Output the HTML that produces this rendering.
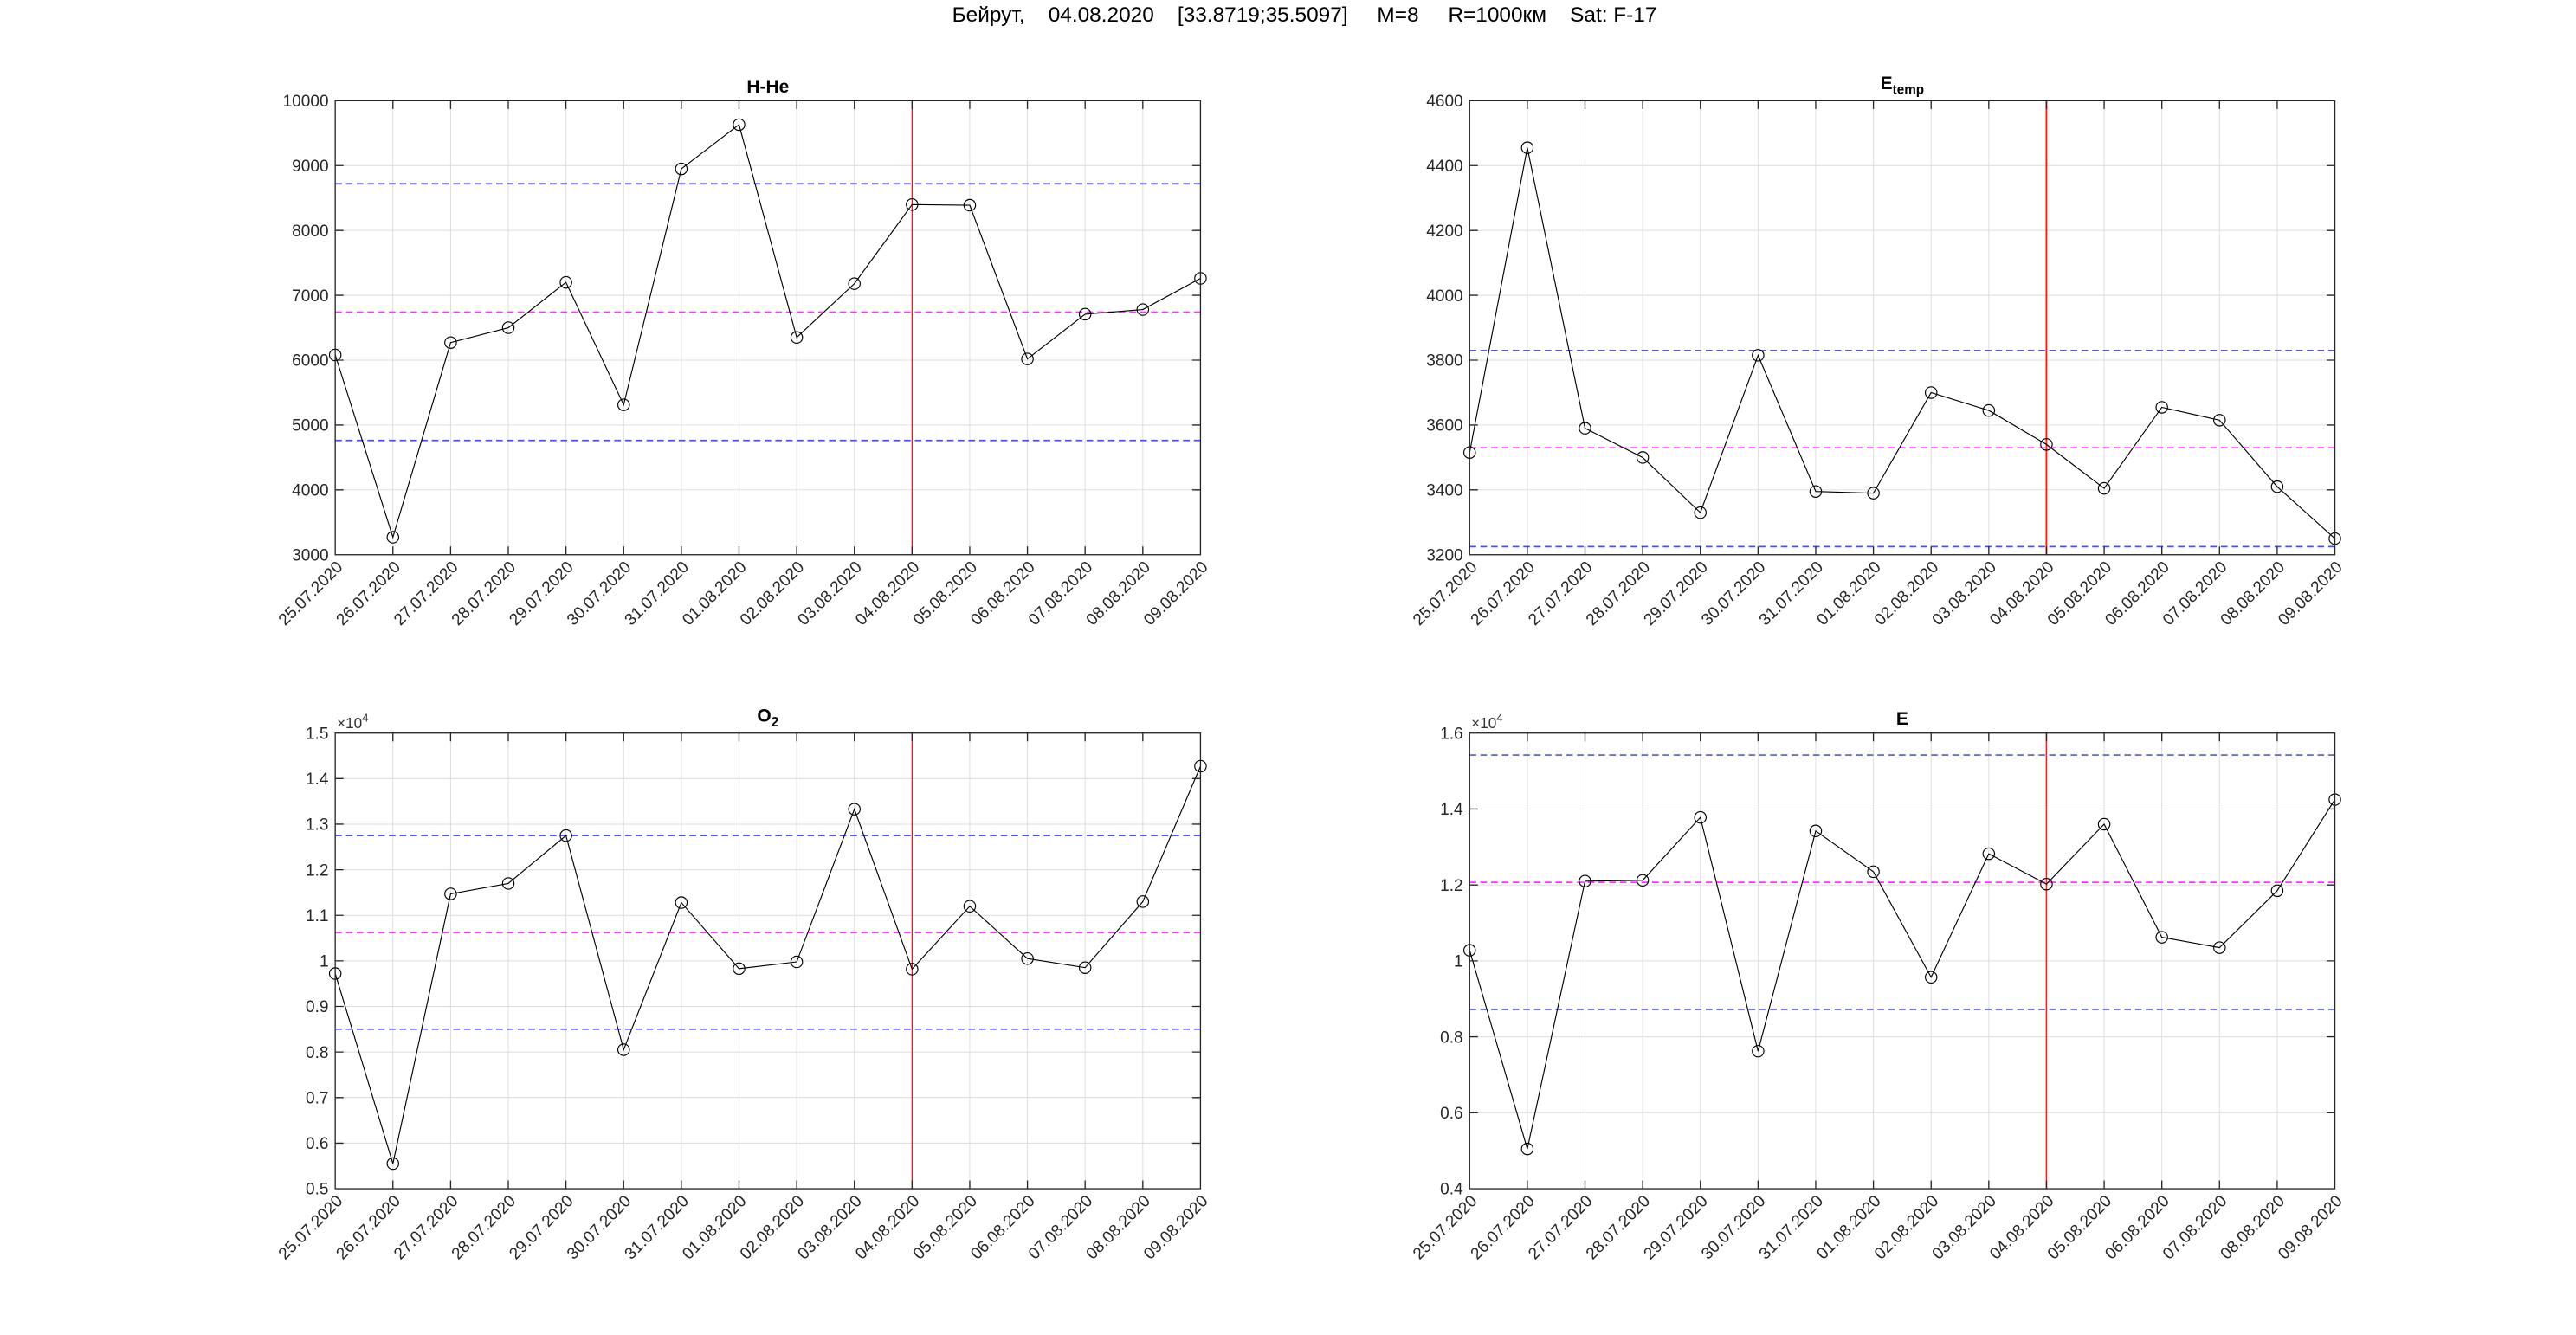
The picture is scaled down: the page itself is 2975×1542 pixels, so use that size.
<!DOCTYPE html>
<html><head><meta charset="utf-8"><style>
html,body{margin:0;padding:0;background:#fff;}
svg{display:block;font-family:"Liberation Sans",Arial,sans-serif;}
.ax{fill:none;stroke:#262626;stroke-width:0.7}
.gr{stroke:#dcdcdc;stroke-width:0.5}
.tk{stroke:#262626;stroke-width:0.7}
.yl{font-size:10px;fill:#262626;text-anchor:end}
.xl{font-size:10px;fill:#262626;text-anchor:end}
.ln{fill:none;stroke:#000;stroke-width:0.6}
.mk{fill:none;stroke:#000;stroke-width:0.6}
.hb{stroke:#4d4dff;stroke-width:0.9;stroke-dasharray:4,2.5}
.hm{stroke:#ff33ff;stroke-width:0.9;stroke-dasharray:4,2.5}
.tt{font-size:11px;font-weight:bold;text-anchor:middle;fill:#000}
.ex{font-size:9px;fill:#333}
</style></head><body>
<svg width="2975" height="1542" viewBox="0 0 1560 808.6" xmlns="http://www.w3.org/2000/svg">
<text x="790" y="13" font-size="12.8" text-anchor="middle" fill="#000" xml:space="preserve">Бейрут,    04.08.2020    [33.8719;35.5097]     M=8     R=1000км    Sat: F-17</text>

<!-- ===== H-He ===== -->
<g transform="translate(203,61)">
<g class="gr">
<line x1="34.93" y1="0" x2="34.93" y2="275"/><line x1="69.87" y1="0" x2="69.87" y2="275"/><line x1="104.8" y1="0" x2="104.8" y2="275"/><line x1="139.73" y1="0" x2="139.73" y2="275"/><line x1="174.67" y1="0" x2="174.67" y2="275"/><line x1="209.6" y1="0" x2="209.6" y2="275"/><line x1="244.53" y1="0" x2="244.53" y2="275"/><line x1="279.47" y1="0" x2="279.47" y2="275"/><line x1="314.4" y1="0" x2="314.4" y2="275"/><line x1="349.33" y1="0" x2="349.33" y2="275"/><line x1="384.27" y1="0" x2="384.27" y2="275"/><line x1="419.2" y1="0" x2="419.2" y2="275"/><line x1="454.13" y1="0" x2="454.13" y2="275"/><line x1="489.07" y1="0" x2="489.07" y2="275"/>
<line x1="0" y1="39.29" x2="524" y2="39.29"/><line x1="0" y1="78.57" x2="524" y2="78.57"/><line x1="0" y1="117.86" x2="524" y2="117.86"/><line x1="0" y1="157.14" x2="524" y2="157.14"/><line x1="0" y1="196.43" x2="524" y2="196.43"/><line x1="0" y1="235.71" x2="524" y2="235.71"/>
</g>
<line class="hb" x1="0" y1="50.3" x2="524" y2="50.3"/>
<line class="hm" x1="0" y1="128.0" x2="524" y2="128.0"/>
<line class="hb" x1="0" y1="205.8" x2="524" y2="205.8"/>
<line x1="349.33" y1="0" x2="349.33" y2="275" stroke="#d01010" stroke-width="0.6"/>
<polyline class="ln" points="0,154.0 34.93,264.4 69.87,146.5 104.8,137.5 139.73,110.0 174.67,184.2 209.6,41.3 244.53,14.5 279.47,143.4 314.4,110.8 349.33,62.9 384.27,63.3 419.2,156.4 454.13,129.3 489.07,126.5 524,107.6"/>
<g class="mk"><circle cx="0" cy="154.0" r="3.5"/><circle cx="34.93" cy="264.4" r="3.5"/><circle cx="69.87" cy="146.5" r="3.5"/><circle cx="104.8" cy="137.5" r="3.5"/><circle cx="139.73" cy="110.0" r="3.5"/><circle cx="174.67" cy="184.2" r="3.5"/><circle cx="209.6" cy="41.3" r="3.5"/><circle cx="244.53" cy="14.5" r="3.5"/><circle cx="279.47" cy="143.4" r="3.5"/><circle cx="314.4" cy="110.8" r="3.5"/><circle cx="349.33" cy="62.9" r="3.5"/><circle cx="384.27" cy="63.3" r="3.5"/><circle cx="419.2" cy="156.4" r="3.5"/><circle cx="454.13" cy="129.3" r="3.5"/><circle cx="489.07" cy="126.5" r="3.5"/><circle cx="524" cy="107.6" r="3.5"/></g>
<rect class="ax" x="0" y="0" width="524" height="275"/>
<g class="tk">
<path d="M34.93,0v5M69.87,0v5M104.8,0v5M139.73,0v5M174.67,0v5M209.6,0v5M244.53,0v5M279.47,0v5M314.4,0v5M349.33,0v5M384.27,0v5M419.2,0v5M454.13,0v5M489.07,0v5M34.93,275v-5M69.87,275v-5M104.8,275v-5M139.73,275v-5M174.67,275v-5M209.6,275v-5M244.53,275v-5M279.47,275v-5M314.4,275v-5M349.33,275v-5M384.27,275v-5M419.2,275v-5M454.13,275v-5M489.07,275v-5"/>
<path d="M0,39.29h5M0,78.57h5M0,117.86h5M0,157.14h5M0,196.43h5M0,235.71h5M524,39.29h-5M524,78.57h-5M524,117.86h-5M524,157.14h-5M524,196.43h-5M524,235.71h-5"/>
</g>
<g class="yl"><text x="-4" y="3.5">10000</text><text x="-4" y="42.8">9000</text><text x="-4" y="82.1">8000</text><text x="-4" y="121.4">7000</text><text x="-4" y="160.6">6000</text><text x="-4" y="199.9">5000</text><text x="-4" y="239.2">4000</text><text x="-4" y="278.5">3000</text></g>
<text class="tt" x="262" y="-5">H-He</text>
<g class="xl">
<text transform="translate(5,283) rotate(-45)">25.07.2020</text><text transform="translate(39.93,283) rotate(-45)">26.07.2020</text><text transform="translate(74.87,283) rotate(-45)">27.07.2020</text><text transform="translate(109.8,283) rotate(-45)">28.07.2020</text><text transform="translate(144.73,283) rotate(-45)">29.07.2020</text><text transform="translate(179.67,283) rotate(-45)">30.07.2020</text><text transform="translate(214.6,283) rotate(-45)">31.07.2020</text><text transform="translate(249.53,283) rotate(-45)">01.08.2020</text><text transform="translate(284.47,283) rotate(-45)">02.08.2020</text><text transform="translate(319.4,283) rotate(-45)">03.08.2020</text><text transform="translate(354.33,283) rotate(-45)">04.08.2020</text><text transform="translate(389.27,283) rotate(-45)">05.08.2020</text><text transform="translate(424.2,283) rotate(-45)">06.08.2020</text><text transform="translate(459.13,283) rotate(-45)">07.08.2020</text><text transform="translate(494.07,283) rotate(-45)">08.08.2020</text><text transform="translate(529,283) rotate(-45)">09.08.2020</text>
</g>
</g>

<!-- ===== E_temp ===== -->
<g transform="translate(890,61)">
<g class="gr">
<line x1="34.93" y1="0" x2="34.93" y2="275"/><line x1="69.87" y1="0" x2="69.87" y2="275"/><line x1="104.8" y1="0" x2="104.8" y2="275"/><line x1="139.73" y1="0" x2="139.73" y2="275"/><line x1="174.67" y1="0" x2="174.67" y2="275"/><line x1="209.6" y1="0" x2="209.6" y2="275"/><line x1="244.53" y1="0" x2="244.53" y2="275"/><line x1="279.47" y1="0" x2="279.47" y2="275"/><line x1="314.4" y1="0" x2="314.4" y2="275"/><line x1="349.33" y1="0" x2="349.33" y2="275"/><line x1="384.27" y1="0" x2="384.27" y2="275"/><line x1="419.2" y1="0" x2="419.2" y2="275"/><line x1="454.13" y1="0" x2="454.13" y2="275"/><line x1="489.07" y1="0" x2="489.07" y2="275"/>
<line x1="0" y1="39.29" x2="524" y2="39.29"/><line x1="0" y1="78.57" x2="524" y2="78.57"/><line x1="0" y1="117.86" x2="524" y2="117.86"/><line x1="0" y1="157.14" x2="524" y2="157.14"/><line x1="0" y1="196.43" x2="524" y2="196.43"/><line x1="0" y1="235.71" x2="524" y2="235.71"/>
</g>
<line class="hb" x1="0" y1="151.3" x2="524" y2="151.3" style="stroke:#5a5ac8"/>
<line class="hm" x1="0" y1="210.2" x2="524" y2="210.2"/>
<line class="hb" x1="0" y1="270.1" x2="524" y2="270.1"/>
<line x1="349.33" y1="0" x2="349.33" y2="275" stroke="#ff1a1a" stroke-width="1"/>
<polyline class="ln" points="0,213.1 34.93,28.5 69.87,198.4 104.8,216.1 139.73,249.5 174.67,154.2 209.6,236.7 244.53,237.7 279.47,176.8 314.4,187.6 349.33,208.2 384.27,234.8 419.2,185.7 454.13,193.5 489.07,233.8 524,265.2"/>
<g class="mk"><circle cx="0" cy="213.1" r="3.5"/><circle cx="34.93" cy="28.5" r="3.5"/><circle cx="69.87" cy="198.4" r="3.5"/><circle cx="104.8" cy="216.1" r="3.5"/><circle cx="139.73" cy="249.5" r="3.5"/><circle cx="174.67" cy="154.2" r="3.5"/><circle cx="209.6" cy="236.7" r="3.5"/><circle cx="244.53" cy="237.7" r="3.5"/><circle cx="279.47" cy="176.8" r="3.5"/><circle cx="314.4" cy="187.6" r="3.5"/><circle cx="349.33" cy="208.2" r="3.5"/><circle cx="384.27" cy="234.8" r="3.5"/><circle cx="419.2" cy="185.7" r="3.5"/><circle cx="454.13" cy="193.5" r="3.5"/><circle cx="489.07" cy="233.8" r="3.5"/><circle cx="524" cy="265.2" r="3.5"/></g>
<rect class="ax" x="0" y="0" width="524" height="275"/>
<g class="tk">
<path d="M34.93,0v5M69.87,0v5M104.8,0v5M139.73,0v5M174.67,0v5M209.6,0v5M244.53,0v5M279.47,0v5M314.4,0v5M349.33,0v5M384.27,0v5M419.2,0v5M454.13,0v5M489.07,0v5M34.93,275v-5M69.87,275v-5M104.8,275v-5M139.73,275v-5M174.67,275v-5M209.6,275v-5M244.53,275v-5M279.47,275v-5M314.4,275v-5M349.33,275v-5M384.27,275v-5M419.2,275v-5M454.13,275v-5M489.07,275v-5"/>
<path d="M0,39.29h5M0,78.57h5M0,117.86h5M0,157.14h5M0,196.43h5M0,235.71h5M524,39.29h-5M524,78.57h-5M524,117.86h-5M524,157.14h-5M524,196.43h-5M524,235.71h-5"/>
</g>
<g class="yl"><text x="-4" y="3.5">4600</text><text x="-4" y="42.8">4400</text><text x="-4" y="82.1">4200</text><text x="-4" y="121.4">4000</text><text x="-4" y="160.6">3800</text><text x="-4" y="199.9">3600</text><text x="-4" y="239.2">3400</text><text x="-4" y="278.5">3200</text></g>
<text class="tt" x="262" y="-7">E<tspan font-size="8" dy="3">temp</tspan></text>
<g class="xl">
<text transform="translate(5,283) rotate(-45)">25.07.2020</text><text transform="translate(39.93,283) rotate(-45)">26.07.2020</text><text transform="translate(74.87,283) rotate(-45)">27.07.2020</text><text transform="translate(109.8,283) rotate(-45)">28.07.2020</text><text transform="translate(144.73,283) rotate(-45)">29.07.2020</text><text transform="translate(179.67,283) rotate(-45)">30.07.2020</text><text transform="translate(214.6,283) rotate(-45)">31.07.2020</text><text transform="translate(249.53,283) rotate(-45)">01.08.2020</text><text transform="translate(284.47,283) rotate(-45)">02.08.2020</text><text transform="translate(319.4,283) rotate(-45)">03.08.2020</text><text transform="translate(354.33,283) rotate(-45)">04.08.2020</text><text transform="translate(389.27,283) rotate(-45)">05.08.2020</text><text transform="translate(424.2,283) rotate(-45)">06.08.2020</text><text transform="translate(459.13,283) rotate(-45)">07.08.2020</text><text transform="translate(494.07,283) rotate(-45)">08.08.2020</text><text transform="translate(529,283) rotate(-45)">09.08.2020</text>
</g>
</g>

<!-- ===== O2 ===== -->
<g transform="translate(203,444)">
<g class="gr">
<line x1="34.93" y1="0" x2="34.93" y2="276"/><line x1="69.87" y1="0" x2="69.87" y2="276"/><line x1="104.8" y1="0" x2="104.8" y2="276"/><line x1="139.73" y1="0" x2="139.73" y2="276"/><line x1="174.67" y1="0" x2="174.67" y2="276"/><line x1="209.6" y1="0" x2="209.6" y2="276"/><line x1="244.53" y1="0" x2="244.53" y2="276"/><line x1="279.47" y1="0" x2="279.47" y2="276"/><line x1="314.4" y1="0" x2="314.4" y2="276"/><line x1="349.33" y1="0" x2="349.33" y2="276"/><line x1="384.27" y1="0" x2="384.27" y2="276"/><line x1="419.2" y1="0" x2="419.2" y2="276"/><line x1="454.13" y1="0" x2="454.13" y2="276"/><line x1="489.07" y1="0" x2="489.07" y2="276"/>
<line x1="0" y1="27.6" x2="524" y2="27.6"/><line x1="0" y1="55.2" x2="524" y2="55.2"/><line x1="0" y1="82.8" x2="524" y2="82.8"/><line x1="0" y1="110.4" x2="524" y2="110.4"/><line x1="0" y1="138" x2="524" y2="138"/><line x1="0" y1="165.6" x2="524" y2="165.6"/><line x1="0" y1="193.2" x2="524" y2="193.2"/><line x1="0" y1="220.8" x2="524" y2="220.8"/><line x1="0" y1="248.4" x2="524" y2="248.4"/>
</g>
<line class="hb" x1="0" y1="62.1" x2="524" y2="62.1"/>
<line class="hm" x1="0" y1="120.9" x2="524" y2="120.9"/>
<line class="hb" x1="0" y1="179.4" x2="524" y2="179.4"/>
<line x1="349.33" y1="0" x2="349.33" y2="276" stroke="#d01010" stroke-width="0.6"/>
<polyline class="ln" points="0,145.7 34.93,260.8 69.87,97.4 104.8,91.1 139.73,62.1 174.67,191.8 209.6,102.7 244.53,142.7 279.47,138.6 314.4,46.1 349.33,143.0 384.27,104.9 419.2,136.6 454.13,142.1 489.07,102.1 524,20.1"/>
<g class="mk"><circle cx="0" cy="145.7" r="3.5"/><circle cx="34.93" cy="260.8" r="3.5"/><circle cx="69.87" cy="97.4" r="3.5"/><circle cx="104.8" cy="91.1" r="3.5"/><circle cx="139.73" cy="62.1" r="3.5"/><circle cx="174.67" cy="191.8" r="3.5"/><circle cx="209.6" cy="102.7" r="3.5"/><circle cx="244.53" cy="142.7" r="3.5"/><circle cx="279.47" cy="138.6" r="3.5"/><circle cx="314.4" cy="46.1" r="3.5"/><circle cx="349.33" cy="143.0" r="3.5"/><circle cx="384.27" cy="104.9" r="3.5"/><circle cx="419.2" cy="136.6" r="3.5"/><circle cx="454.13" cy="142.1" r="3.5"/><circle cx="489.07" cy="102.1" r="3.5"/><circle cx="524" cy="20.1" r="3.5"/></g>
<rect class="ax" x="0" y="0" width="524" height="276"/>
<g class="tk">
<path d="M34.93,0v5M69.87,0v5M104.8,0v5M139.73,0v5M174.67,0v5M209.6,0v5M244.53,0v5M279.47,0v5M314.4,0v5M349.33,0v5M384.27,0v5M419.2,0v5M454.13,0v5M489.07,0v5M34.93,276v-5M69.87,276v-5M104.8,276v-5M139.73,276v-5M174.67,276v-5M209.6,276v-5M244.53,276v-5M279.47,276v-5M314.4,276v-5M349.33,276v-5M384.27,276v-5M419.2,276v-5M454.13,276v-5M489.07,276v-5"/>
<path d="M0,27.6h5M0,55.2h5M0,82.8h5M0,110.4h5M0,138h5M0,165.6h5M0,193.2h5M0,220.8h5M0,248.4h5M524,27.6h-5M524,55.2h-5M524,82.8h-5M524,110.4h-5M524,138h-5M524,165.6h-5M524,193.2h-5M524,220.8h-5M524,248.4h-5"/>
</g>
<g class="yl"><text x="-4" y="3.5">1.5</text><text x="-4" y="31.1">1.4</text><text x="-4" y="58.7">1.3</text><text x="-4" y="86.3">1.2</text><text x="-4" y="113.9">1.1</text><text x="-4" y="141.5">1</text><text x="-4" y="169.1">0.9</text><text x="-4" y="196.7">0.8</text><text x="-4" y="224.3">0.7</text><text x="-4" y="251.9">0.6</text><text x="-4" y="279.5">0.5</text></g>
<text class="ex" x="1" y="-3">×10<tspan font-size="7" dy="-4">4</tspan></text>
<text class="tt" x="262" y="-7">O<tspan font-size="8" dy="3">2</tspan></text>
<g class="xl">
<text transform="translate(5,284) rotate(-45)">25.07.2020</text><text transform="translate(39.93,284) rotate(-45)">26.07.2020</text><text transform="translate(74.87,284) rotate(-45)">27.07.2020</text><text transform="translate(109.8,284) rotate(-45)">28.07.2020</text><text transform="translate(144.73,284) rotate(-45)">29.07.2020</text><text transform="translate(179.67,284) rotate(-45)">30.07.2020</text><text transform="translate(214.6,284) rotate(-45)">31.07.2020</text><text transform="translate(249.53,284) rotate(-45)">01.08.2020</text><text transform="translate(284.47,284) rotate(-45)">02.08.2020</text><text transform="translate(319.4,284) rotate(-45)">03.08.2020</text><text transform="translate(354.33,284) rotate(-45)">04.08.2020</text><text transform="translate(389.27,284) rotate(-45)">05.08.2020</text><text transform="translate(424.2,284) rotate(-45)">06.08.2020</text><text transform="translate(459.13,284) rotate(-45)">07.08.2020</text><text transform="translate(494.07,284) rotate(-45)">08.08.2020</text><text transform="translate(529,284) rotate(-45)">09.08.2020</text>
</g>
</g>

<!-- ===== E ===== -->
<g transform="translate(890,444)">
<g class="gr">
<line x1="34.93" y1="0" x2="34.93" y2="276"/><line x1="69.87" y1="0" x2="69.87" y2="276"/><line x1="104.8" y1="0" x2="104.8" y2="276"/><line x1="139.73" y1="0" x2="139.73" y2="276"/><line x1="174.67" y1="0" x2="174.67" y2="276"/><line x1="209.6" y1="0" x2="209.6" y2="276"/><line x1="244.53" y1="0" x2="244.53" y2="276"/><line x1="279.47" y1="0" x2="279.47" y2="276"/><line x1="314.4" y1="0" x2="314.4" y2="276"/><line x1="349.33" y1="0" x2="349.33" y2="276"/><line x1="384.27" y1="0" x2="384.27" y2="276"/><line x1="419.2" y1="0" x2="419.2" y2="276"/><line x1="454.13" y1="0" x2="454.13" y2="276"/><line x1="489.07" y1="0" x2="489.07" y2="276"/>
<line x1="0" y1="46" x2="524" y2="46"/><line x1="0" y1="92" x2="524" y2="92"/><line x1="0" y1="138" x2="524" y2="138"/><line x1="0" y1="184" x2="524" y2="184"/><line x1="0" y1="230" x2="524" y2="230"/>
</g>
<line class="hb" x1="0" y1="13.3" x2="524" y2="13.3" style="stroke:#5a5ac8"/>
<line class="hm" x1="0" y1="90.4" x2="524" y2="90.4"/>
<line class="hb" x1="0" y1="167.4" x2="524" y2="167.4"/>
<line x1="349.33" y1="0" x2="349.33" y2="276" stroke="#ff1a1a" stroke-width="0.8"/>
<polyline class="ln" points="0,131.6 34.93,251.9 69.87,89.7 104.8,89.2 139.73,51.1 174.67,192.7 209.6,59.3 244.53,84.0 279.47,147.9 314.4,73.1 349.33,91.5 384.27,55.2 419.2,123.7 454.13,130.0 489.07,95.5 524,40.3"/>
<g class="mk"><circle cx="0" cy="131.6" r="3.5"/><circle cx="34.93" cy="251.9" r="3.5"/><circle cx="69.87" cy="89.7" r="3.5"/><circle cx="104.8" cy="89.2" r="3.5"/><circle cx="139.73" cy="51.1" r="3.5"/><circle cx="174.67" cy="192.7" r="3.5"/><circle cx="209.6" cy="59.3" r="3.5"/><circle cx="244.53" cy="84.0" r="3.5"/><circle cx="279.47" cy="147.9" r="3.5"/><circle cx="314.4" cy="73.1" r="3.5"/><circle cx="349.33" cy="91.5" r="3.5"/><circle cx="384.27" cy="55.2" r="3.5"/><circle cx="419.2" cy="123.7" r="3.5"/><circle cx="454.13" cy="130.0" r="3.5"/><circle cx="489.07" cy="95.5" r="3.5"/><circle cx="524" cy="40.3" r="3.5"/></g>
<rect class="ax" x="0" y="0" width="524" height="276"/>
<g class="tk">
<path d="M34.93,0v5M69.87,0v5M104.8,0v5M139.73,0v5M174.67,0v5M209.6,0v5M244.53,0v5M279.47,0v5M314.4,0v5M349.33,0v5M384.27,0v5M419.2,0v5M454.13,0v5M489.07,0v5M34.93,276v-5M69.87,276v-5M104.8,276v-5M139.73,276v-5M174.67,276v-5M209.6,276v-5M244.53,276v-5M279.47,276v-5M314.4,276v-5M349.33,276v-5M384.27,276v-5M419.2,276v-5M454.13,276v-5M489.07,276v-5"/>
<path d="M0,46h5M0,92h5M0,138h5M0,184h5M0,230h5M524,46h-5M524,92h-5M524,138h-5M524,184h-5M524,230h-5"/>
</g>
<g class="yl"><text x="-4" y="3.5">1.6</text><text x="-4" y="49.5">1.4</text><text x="-4" y="95.5">1.2</text><text x="-4" y="141.5">1</text><text x="-4" y="187.5">0.8</text><text x="-4" y="233.5">0.6</text><text x="-4" y="279.5">0.4</text></g>
<text class="ex" x="1" y="-3">×10<tspan font-size="7" dy="-4">4</tspan></text>
<text class="tt" x="262" y="-5">E</text>
<g class="xl">
<text transform="translate(5,284) rotate(-45)">25.07.2020</text><text transform="translate(39.93,284) rotate(-45)">26.07.2020</text><text transform="translate(74.87,284) rotate(-45)">27.07.2020</text><text transform="translate(109.8,284) rotate(-45)">28.07.2020</text><text transform="translate(144.73,284) rotate(-45)">29.07.2020</text><text transform="translate(179.67,284) rotate(-45)">30.07.2020</text><text transform="translate(214.6,284) rotate(-45)">31.07.2020</text><text transform="translate(249.53,284) rotate(-45)">01.08.2020</text><text transform="translate(284.47,284) rotate(-45)">02.08.2020</text><text transform="translate(319.4,284) rotate(-45)">03.08.2020</text><text transform="translate(354.33,284) rotate(-45)">04.08.2020</text><text transform="translate(389.27,284) rotate(-45)">05.08.2020</text><text transform="translate(424.2,284) rotate(-45)">06.08.2020</text><text transform="translate(459.13,284) rotate(-45)">07.08.2020</text><text transform="translate(494.07,284) rotate(-45)">08.08.2020</text><text transform="translate(529,284) rotate(-45)">09.08.2020</text>
</g>
</g>
</svg>
</body></html>
